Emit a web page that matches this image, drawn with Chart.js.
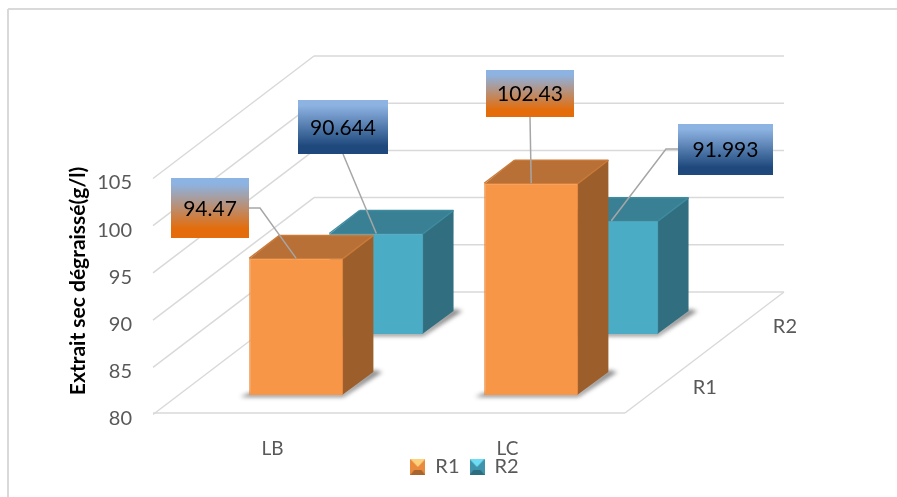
<!DOCTYPE html>
<html>
<head>
<meta charset="utf-8">
<title>Extrait sec dégraissé</title>
<script src="https://cdn.jsdelivr.net/npm/chart.js@4"></script>
<style>
html, body { margin: 0; padding: 0; background: #fff; }
#wrap { width: 897px; height: 497px; }
</style>
</head>
<body>
<div id="wrap"><canvas id="mycanvas" width="897" height="497"></canvas></div>
<script>
var categories = ['LB', 'LC'];
var seriesNames = ['R1', 'R2'];
var r1Values = [94.47, 102.43];
var r2Values = [90.644, 91.993];
var yTicks = [80, 85, 90, 95, 100, 105];
var yTitle = 'Extrait sec dégraissé(g/l)';

// depth axis of the 3D box, in pixels, from the front plane to the back wall
var DEPTH_X = 159, DEPTH_Y = -121;
var BAR_DEPTH = 0.19;
var SLOT_START = [0.149, 0.653];

var FONT = 'Lato, Carlito, sans-serif';
var GRID = '#d9d9d9';
var TEXT = '#595959';

var faces = [
	{ front: '#f79646', top: '#b87036', rim: '#c97a38', side: '#9c5f2c' },
	{ front: '#4bacc6', top: '#3a8094', rim: '#3f8ba0', side: '#316e7f' }
];

var boxColors = ['#e46c0a', '#1f497d'];

// callout boxes, per series then per category: left, top, right, bottom, elbow
var callouts = [
	[
		{ l: 171, t: 178, r: 249, b: 238, from: [249, 208], elbow: [260, 208] },
		{ l: 486, t: 70, r: 574, b: 117, from: [530, 117] }
	],
	[
		{ l: 298, t: 100, r: 388, b: 154, from: [343, 154] },
		{ l: 678, t: 124, r: 773, b: 175, from: [678, 149], elbow: [666, 149] }
	]
];

function poly(ctx, pts, fill) {
	ctx.beginPath();
	ctx.moveTo(pts[0][0], pts[0][1]);
	for (var i = 1; i < pts.length; i++) {
		ctx.lineTo(pts[i][0], pts[i][1]);
	}
	ctx.closePath();
	ctx.fillStyle = fill;
	ctx.fill();
}

function line(ctx, x1, y1, x2, y2) {
	ctx.beginPath();
	ctx.moveTo(x1, y1);
	ctx.lineTo(x2, y2);
	ctx.stroke();
}

function legendIcon(light, main, dark) {
	var c = document.createElement('canvas');
	c.width = 15;
	c.height = 16;
	var g = c.getContext('2d');
	g.fillStyle = main;
	g.fillRect(0, 0, 15, 16);
	poly(g, [[0, 16], [15, 16], [11, 11], [4, 11]], dark);
	poly(g, [[0, 0], [15, 0], [7.5, 8]], light);
	return c;
}

var legendIcons = [
	legendIcon('#fcd27f', '#e98a3d', '#a8652e'),
	legendIcon('#6fdcf5', '#3f93aa', '#2c6d80')
];

var box3d = {
	id: 'box3d',
	// tick labels get clipped to the axis box, and the legend sits right under it
	beforeDraw: function(chart) {
		chart.scales.x.bottom = chart.height;
	},
	// walls and floor go under the bars
	beforeDatasetsDraw: function(chart) {
		var ctx = chart.ctx;
		var area = chart.chartArea;
		var y = chart.scales.y;
		ctx.save();
		ctx.strokeStyle = GRID;
		ctx.lineWidth = 1.5;
		yTicks.forEach(function(v) {
			var py = y.getPixelForValue(v);
			line(ctx, area.left - 2, py + 1.5, area.left + DEPTH_X, py + DEPTH_Y);
			line(ctx, area.left + DEPTH_X, py + DEPTH_Y, area.right + DEPTH_X, py + DEPTH_Y);
		});
		var floor = y.getPixelForValue(yTicks[0]);
		line(ctx, area.left - 2, floor, area.right, floor);
		line(ctx, area.right, floor, area.right + DEPTH_X, floor + DEPTH_Y);
		ctx.restore();
	},
	// side and top faces, then shift the context so the library's bar lands on its slot
	beforeDatasetDraw: function(chart, args) {
		var ctx = chart.ctx;
		var s = args.index;
		var dx = SLOT_START[s] * DEPTH_X, dy = SLOT_START[s] * DEPTH_Y;
		var bx = BAR_DEPTH * DEPTH_X, by = BAR_DEPTH * DEPTH_Y;
		var f = faces[s];
		args.meta.data.forEach(function(bar) {
			var left = bar.x - bar.width / 2 + dx;
			var right = bar.x + bar.width / 2 + dx;
			var top = bar.y + dy;
			var base = bar.base + dy;
			ctx.save();
			ctx.filter = 'blur(2px)';
			poly(ctx, [[left - 9, base + 2], [right, base + 2], [right + bx + 9, base + by],
				[right + bx, base + by - 2], [right, base - 2], [left, base - 2]], 'rgba(40,40,40,0.55)');
			ctx.restore();
			// faces run 1px under the front so no seam shows at the edges
			poly(ctx, [[right - 1, top], [right + bx, top + by], [right + bx, base + by], [right - 1, base]], f.side);
			poly(ctx, [[left, top + 1], [left + bx, top + by], [right + bx, top + by], [right, top + 1]], f.top);
			ctx.save();
			ctx.strokeStyle = f.rim;
			ctx.lineWidth = 1.5;
			line(ctx, right, top, right + bx, top + by);
			line(ctx, left, top, left + bx, top + by);
			line(ctx, left + bx, top + by, right + bx, top + by);
			ctx.restore();
		});
		ctx.save();
		ctx.translate(dx, dy);
	},
	afterDatasetDraw: function(chart) {
		chart.ctx.restore();
	},
	afterDraw: function(chart) {
		var ctx = chart.ctx;
		var area = chart.chartArea;
		var y = chart.scales.y;
		var floor = y.getPixelForValue(yTicks[0]);

		ctx.save();
		// sheet frame, top and left only
		ctx.strokeStyle = '#d9d9d9';
		ctx.lineWidth = 2;
		line(ctx, 8, 9, 897, 9);
		line(ctx, 8, 9, 8, 497);

		ctx.fillStyle = '#000';
		ctx.font = 'bold 21px ' + FONT;
		ctx.textAlign = 'center';
		ctx.textBaseline = 'middle';
		ctx.save();
		ctx.translate(78, 281);
		ctx.rotate(-Math.PI / 2);
		ctx.fillText(yTitle, 0, 0);
		ctx.restore();

		// series names beside the depth edge of the floor
		ctx.fillStyle = TEXT;
		ctx.font = '20px ' + FONT;
		seriesNames.forEach(function(name, s) {
			var d = SLOT_START[s] + BAR_DEPTH / 2;
			ctx.fillText(name, area.right + d * DEPTH_X + 41, floor + d * DEPTH_Y + 4);
		});

		// callouts with their leader lines, ending at the middle of each bar top
		chart.data.datasets.forEach(function(ds, s) {
			var meta = chart.getDatasetMeta(s);
			meta.data.forEach(function(bar, i) {
				var c = callouts[s][i];
				var ex = bar.x + SLOT_START[s] * DEPTH_X;
				var ey = bar.y + SLOT_START[s] * DEPTH_Y;
				ctx.strokeStyle = '#a6a6a6';
				ctx.lineWidth = 1.5;
				ctx.beginPath();
				ctx.moveTo(c.from[0], c.from[1]);
				if (c.elbow) ctx.lineTo(c.elbow[0], c.elbow[1]);
				ctx.lineTo(ex, ey);
				ctx.stroke();

				var g = ctx.createLinearGradient(0, c.t, 0, c.b);
				g.addColorStop(0, '#8db3e2');
				g.addColorStop(0.1, '#8db3e2');
				g.addColorStop(0.85, boxColors[s]);
				g.addColorStop(1, boxColors[s]);
				ctx.fillStyle = g;
				ctx.fillRect(c.l, c.t, c.r - c.l, c.b - c.t);

				ctx.fillStyle = '#000';
				ctx.font = '21px ' + FONT;
				ctx.textAlign = 'center';
				ctx.textBaseline = 'middle';
				ctx.fillText(String(ds.data[i]), (c.l + c.r) / 2, (c.t + c.b) / 2 + 1);
			});
		});
		ctx.restore();
	}
};

var chartdata = {
	labels: categories,
	datasets: [
		{
			label: seriesNames[0],
			data: r1Values,
			base: yTicks[0],
			backgroundColor: faces[0].front,
			borderColor: '#e98b3e',
			borderWidth: 1,
			order: 1,
			clip: false
		},
		{
			label: seriesNames[1],
			data: r2Values,
			base: yTicks[0],
			backgroundColor: faces[1].front,
			borderColor: '#45a0b8',
			borderWidth: 1,
			order: 2,
			clip: false
		}
	]
};

var options = {
	responsive: false,
	animation: false,
	layout: { padding: { left: 32, top: 177, right: 0, bottom: 10 } },
	plugins: {
		tooltip: { enabled: false },
		legend: {
			position: 'bottom',
			labels: {
				usePointStyle: true,
				pointStyleWidth: 15,
				padding: 10,
				color: TEXT,
				font: { family: FONT, size: 20 },
				generateLabels: function(chart) {
					return chart.data.datasets.map(function(ds, s) {
						return { text: ds.label, datasetIndex: s, pointStyle: legendIcons[s], fontColor: TEXT, lineWidth: 0 };
					});
				}
			}
		}
	},
	scales: {
		x: {
			type: 'category',
			offset: true,
			grid: { display: false },
			border: { display: false },
			afterFit: function(scale) { scale.height = 34; },
			ticks: { color: TEXT, font: { family: FONT, size: 19 }, padding: 16, maxRotation: 0 }
		},
		y: {
			min: yTicks[0],
			max: yTicks[yTicks.length - 1],
			grid: { display: false },
			border: { display: false },
			afterFit: function(scale) { scale.width = 123; },
			ticks: { stepSize: yTicks[1] - yTicks[0], color: TEXT, font: { family: FONT, size: 20 }, padding: 15, labelOffset: 6 }
		},
		// empty axis that only keeps the room to the right of the front plane
		room: {
			position: 'right',
			display: true,
			grid: { display: false },
			border: { display: false },
			ticks: { display: false },
			afterFit: function(scale) { scale.width = 272; }
		}
	},
	datasets: { bar: { grouped: false, barPercentage: 0.8, categoryPercentage: 0.5 } }
};

var barGraph = new Chart(document.getElementById('mycanvas'), {
	type: 'bar',
	data: chartdata,
	options: options,
	plugins: [box3d]
});
</script>
</body>
</html>
